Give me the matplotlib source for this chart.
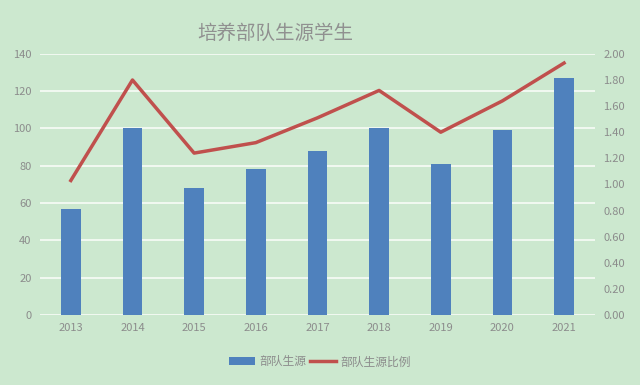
import matplotlib
matplotlib.use("Agg")
import matplotlib.pyplot as plt
import numpy as np

plt.rcParams['font.family'] = ['Noto Sans CJK SC', 'DejaVu Sans']

# data
years = ["2013", "2014", "2015", "2016", "2017", "2018", "2019", "2020", "2021"]
students = [57, 100, 68, 78, 88, 100, 81, 99, 127]
ratio = [1.03, 1.80, 1.24, 1.32, 1.51, 1.72, 1.40, 1.64, 1.93]

bg = "#cce8cf"
grey = "#8c8c8c"

fig = plt.figure(figsize=(6.4, 3.85), dpi=100, facecolor=bg)
ax = fig.add_axes([0.0625, 0.182, 0.867, 0.678])
ax.set_facecolor(bg)

x = np.arange(len(years))
bars = ax.bar(x, students, width=0.32, color="#4f81bd", zorder=3, label="部队生源")
ax.set_xlim(-0.5, len(years) - 0.5)
ax.set_ylim(0, 140)
ax.set_yticks(range(0, 141, 20))
ax.set_xticks(x)
ax.set_xticklabels(years)
ax.grid(axis="y", color="#f4faf4", linewidth=1.3, zorder=0)
ax.tick_params(length=0, colors=grey, labelsize=8, pad=6)
for s in ax.spines.values():
    s.set_visible(False)

ax2 = ax.twinx()
line, = ax2.plot(x, ratio, color="#c0504d", linewidth=2.5, zorder=4, label="部队生源比例")
ax2.set_ylim(0, 2.0)
ax2.set_yticks(np.arange(0, 2.01, 0.2))
ax2.set_yticklabels([f"{v:.2f}" for v in np.arange(0, 2.01, 0.2)])
ax2.tick_params(length=0, colors=grey, labelsize=8, pad=6)
for s in ax2.spines.values():
    s.set_visible(False)

fig.text(0.43, 0.913, "培养部队生源学生", ha="center", va="center", fontsize=14, color="#909090")

fig.legend([bars, line], ["部队生源", "部队生源比例"], loc="center", bbox_to_anchor=(0.5, 0.06),
           ncol=2, frameon=False, fontsize=8.5, labelcolor=grey, handlelength=2.2,
           handletextpad=0.4, columnspacing=0.3)

fig.savefig("out.png", dpi=100, facecolor=bg)
